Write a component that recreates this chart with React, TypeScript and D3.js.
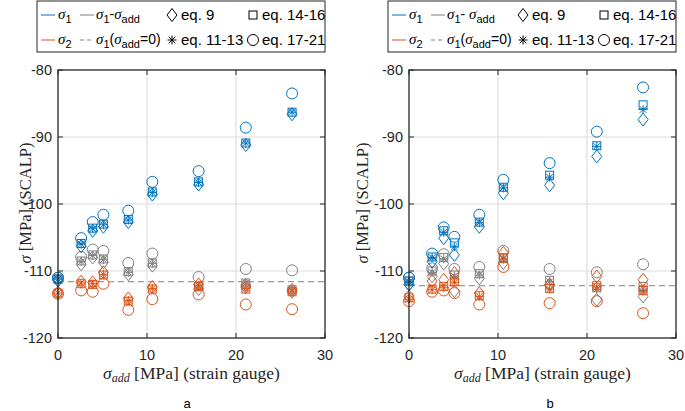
import React, { useRef, useEffect } from "react";
import * as d3 from "d3";

// strain gauge sigma_add values (MPa)
const xVals = [0, 2.6, 3.9, 5.1, 7.9, 10.6, 15.8, 21.1, 26.3];

// panel a
const aBlueCircle = [-111.0, -105.1, -102.7, -101.6, -101.0, -96.7, -95.1, -88.6, -83.5];
const aBlueDiamond = [-111.4, -106.3, -104.0, -103.4, -102.7, -98.6, -97.1, -91.2, -86.6];
const aBlueStar = [-111.2, -106.0, -103.7, -103.1, -102.4, -98.3, -96.8, -90.9, -86.3];
const aBlueSquare = [-111.2, -105.9, -103.6, -103.0, -102.3, -98.2, -96.7, -90.9, -86.3];
const aGrayCircle = [-111.0, -107.9, -106.8, -107.0, -108.8, -107.4, -110.9, -109.7, -109.9];
const aGrayDiamond = [-111.4, -109.0, -108.0, -108.7, -110.5, -109.2, -112.7, -112.1, -113.1];
const aGrayStar = [-111.2, -108.6, -107.7, -108.3, -110.2, -108.9, -112.4, -111.8, -112.8];
const aGraySquare = [-111.2, -108.5, -107.6, -108.2, -110.1, -108.8, -112.3, -111.8, -112.8];
const aOrangeCircle = [-113.4, -112.9, -113.1, -111.9, -115.8, -114.2, -113.5, -115.0, -115.7];
const aOrangeDiamond = [-113.2, -111.6, -111.7, -110.2, -114.1, -112.4, -112.0, -112.4, -112.8];
const aOrangeStar = [-113.3, -111.8, -111.9, -110.5, -114.4, -112.6, -112.2, -112.6, -113.0];
const aOrangeSquare = [-113.3, -111.9, -112.0, -110.6, -114.5, -112.7, -112.3, -112.7, -113.1];
const aRef = -111.6;

// panel b
const bBlueCircle = [-111.0, -107.4, -103.5, -104.9, -101.6, -96.4, -93.9, -89.2, -82.6];
const bBlueDiamond = [-112.0, -108.6, -105.1, -107.6, -103.4, -98.4, -97.2, -92.9, -87.4];
const bBlueStar = [-111.6, -108.0, -104.2, -106.4, -102.8, -97.6, -96.0, -91.4, -85.9];
const bBlueSquare = [-111.5, -107.9, -104.0, -105.8, -102.7, -97.5, -95.7, -91.3, -85.2];
const bGrayCircle = [-111.0, -109.6, -107.5, -109.7, -109.4, -107.0, -109.7, -110.2, -109.0];
const bGrayDiamond = [-112.0, -110.8, -108.9, -113.0, -111.1, -108.8, -112.1, -114.3, -113.8];
const bGrayStar = [-111.6, -110.2, -108.2, -110.8, -110.6, -108.2, -111.6, -112.7, -112.7];
const bGraySquare = [-111.5, -110.0, -108.0, -110.6, -110.4, -108.0, -111.4, -112.5, -112.3];
const bOrangeCircle = [-114.5, -113.1, -112.9, -113.3, -115.0, -109.4, -114.8, -114.5, -116.3];
const bOrangeDiamond = [-113.8, -111.5, -111.3, -110.3, -113.3, -107.3, -112.0, -110.8, -111.3];
const bOrangeStar = [-114.2, -112.8, -112.5, -111.7, -113.8, -108.2, -112.7, -112.4, -113.1];
const bOrangeSquare = [-114.0, -112.7, -112.3, -111.6, -113.7, -108.1, -112.6, -112.2, -112.9];
const bRef = -112.2;

const xTicks = [0, 10, 20, 30];
const yTicks = [-120, -110, -100, -90, -80];

const BLUE = "#0072BD";
const ORANGE = "#D95319";
const GRAY = "#808080";
const SANS = "'Liberation Sans', Arial, sans-serif";
const SERIF = "'Liberation Serif', 'Times New Roman', serif";

const drawMarker = (g, kind, x, y, color) => {
  if (kind === "circle") {
    g.append("circle").attr("cx", x).attr("cy", y).attr("r", 5.5)
      .attr("fill", "none").attr("stroke", color).attr("stroke-width", 1);
  } else if (kind === "square") {
    g.append("rect").attr("x", x - 4).attr("y", y - 4).attr("width", 8).attr("height", 8)
      .attr("fill", "none").attr("stroke", color).attr("stroke-width", 1);
  } else if (kind === "diamond") {
    g.append("path").attr("d", `M${x},${y - 6.5}L${x + 5},${y}L${x},${y + 6.5}L${x - 5},${y}Z`)
      .attr("fill", "none").attr("stroke", color).attr("stroke-width", 1);
  } else {
    const r = 4.5, d = 3.3;
    g.append("path")
      .attr("d", `M${x - r},${y}H${x + r}M${x},${y - r}V${y + r}M${x - d},${y - d}L${x + d},${y + d}M${x - d},${y + d}L${x + d},${y - d}`)
      .attr("fill", "none").attr("stroke", color).attr("stroke-width", 1);
  }
};

const Panel = ({ ox, series, refLevel, letter, yLabelX, spaced }) => {
  const gRef = useRef(null);

  useEffect(() => {
    const g = d3.select(gRef.current);
    g.selectAll("*").remove();

    const left = 58 + ox, right = 325 + ox, top = 70, bottom = 338;
    const x = d3.scaleLinear().domain([0, 30]).range([left, right]);
    const y = d3.scaleLinear().domain([-120, -80]).range([bottom, top]);

    // grid
    g.selectAll(".gx").data(xTicks.slice(1, -1)).enter().append("line")
      .attr("x1", (d) => x(d)).attr("x2", (d) => x(d)).attr("y1", top).attr("y2", bottom)
      .attr("stroke", "#dedede").attr("stroke-width", 1.2);
    g.selectAll(".gy").data(yTicks.slice(1, -1)).enter().append("line")
      .attr("x1", left).attr("x2", right).attr("y1", (d) => y(d)).attr("y2", (d) => y(d))
      .attr("stroke", "#dedede").attr("stroke-width", 1.2);

    // dashed reference sigma1(sigma_add=0)
    g.append("line").attr("x1", left).attr("x2", right)
      .attr("y1", y(refLevel)).attr("y2", y(refLevel))
      .attr("stroke", GRAY).attr("stroke-width", 1).attr("stroke-dasharray", "6,4");

    // markers
    series.forEach((s) => {
      s.values.forEach((v, i) => drawMarker(g, s.kind, x(xVals[i]), y(v), s.color));
    });

    // axes box
    g.append("rect").attr("x", left).attr("y", top).attr("width", right - left).attr("height", bottom - top)
      .attr("fill", "none").attr("stroke", "#262626").attr("stroke-width", 1.3);

    // ticks (inside, all four sides)
    xTicks.forEach((t) => {
      g.append("line").attr("x1", x(t)).attr("x2", x(t)).attr("y1", bottom).attr("y2", bottom - 5).attr("stroke", "#262626");
      g.append("line").attr("x1", x(t)).attr("x2", x(t)).attr("y1", top).attr("y2", top + 5).attr("stroke", "#262626");
      g.append("text").attr("x", x(t)).attr("y", 360).attr("text-anchor", "middle")
        .attr("font-family", SANS).attr("font-size", 14.5).attr("fill", "#262626").text(t);
    });
    yTicks.forEach((t) => {
      g.append("line").attr("x1", left).attr("x2", left + 5).attr("y1", y(t)).attr("y2", y(t)).attr("stroke", "#262626");
      g.append("line").attr("x1", right).attr("x2", right - 5).attr("y1", y(t)).attr("y2", y(t)).attr("stroke", "#262626");
      g.append("text").attr("x", left - 6).attr("y", y(t) + 5).attr("text-anchor", "end")
        .attr("font-family", SANS).attr("font-size", 14.5).attr("fill", "#262626").text(t);
    });

    // axis labels
    const xl = g.append("text").attr("x", (left + right) / 2).attr("y", 379).attr("text-anchor", "middle")
      .attr("font-family", SERIF).attr("font-size", 17.5).attr("fill", "#262626");
    xl.append("tspan").attr("font-style", "italic").text("σ");
    xl.append("tspan").attr("font-style", "italic").attr("font-size", 12).attr("dy", 3).text("add");
    xl.append("tspan").attr("dy", -3).text(" [MPa] (strain gauge)");

    const yl = g.append("text").attr("transform", `translate(${yLabelX},${(top + bottom) / 2 - 1}) rotate(-90)`)
      .attr("text-anchor", "middle").attr("font-family", SERIF).attr("font-size", 16.5).attr("fill", "#262626");
    yl.append("tspan").attr("font-style", "italic").text("σ");
    yl.append("tspan").text(" [MPa] (SCALP)");

    g.append("text").attr("x", 187 + ox + (letter === "b" ? 12 : 0)).attr("y", 408).attr("text-anchor", "middle")
      .attr("font-family", SANS).attr("font-size", 13).attr("fill", "#000").text(letter);

    // legend
    const lx = 37 + ox;
    const lg = g.append("g");
    lg.append("rect").attr("x", lx).attr("y", 1).attr("width", 288).attr("height", 51)
      .attr("fill", "#fff").attr("stroke", "#262626").attr("stroke-width", 1);
    const r1 = 15, r2 = 40;
    const line = (x1, yy, color, dash) =>
      lg.append("line").attr("x1", x1).attr("x2", x1 + 14).attr("y1", yy).attr("y2", yy)
        .attr("stroke", color).attr("stroke-width", 1).attr("stroke-dasharray", dash || null);
    const sig = (xx, yy, sub, rest) => {
      const t = lg.append("text").attr("x", xx).attr("y", yy + 4).attr("font-family", SANS)
        .attr("font-size", 14).attr("fill", "#000");
      t.append("tspan").attr("font-family", SERIF).attr("font-style", "italic").attr("font-size", 15).text("σ");
      t.append("tspan").attr("font-size", 11).attr("dy", 4).text(sub);
      rest(t);
    };
    line(lx + 4, r1, BLUE);
    sig(lx + 21, r1, "1", () => {});
    line(lx + 43, r1, GRAY);
    sig(lx + 59, r1, "1", (t) => {
      t.append("tspan").attr("dy", -4).text(spaced ? "- " : "-");
      t.append("tspan").attr("font-family", SERIF).attr("font-style", "italic").attr("font-size", 15).text("σ");
      t.append("tspan").attr("font-size", 11).attr("dy", 4).text("add");
    });
    line(lx + 4, r2, ORANGE);
    sig(lx + 21, r2, "2", () => {});
    line(lx + 43, r2, GRAY, "4,3");
    sig(lx + 59, r2, "1", (t) => {
      t.append("tspan").attr("dy", -4).text("(");
      t.append("tspan").attr("font-family", SERIF).attr("font-style", "italic").attr("font-size", 15).text("σ");
      t.append("tspan").attr("font-size", 11).attr("dy", 4).text("add");
      t.append("tspan").attr("dy", -4).text("=0)");
    });
    const eq = (mx, yy, kind, label) => {
      drawMarker(lg, kind, mx, yy, "#000");
      lg.append("text").attr("x", mx + 9).attr("y", yy + 5).attr("font-family", SANS)
        .attr("font-size", 15).attr("fill", "#000").text(label);
    };
    eq(lx + 135, r1, "diamond", "eq. 9");
    eq(lx + 216, r1, "square", "eq. 14-16");
    eq(lx + 135, r2, "star", "eq. 11-13");
    eq(lx + 216, r2, "circle", "eq. 17-21");
  }, [ox, series, refLevel, letter, yLabelX, spaced]);

  return <g ref={gRef}></g>;
};

const mk = (gd, gs, gsq, gc, od, os, osq, oc, bd, bs, bsq, bc) => [
  { kind: "diamond", color: GRAY, values: gd },
  { kind: "star", color: GRAY, values: gs },
  { kind: "square", color: GRAY, values: gsq },
  { kind: "circle", color: GRAY, values: gc },
  { kind: "diamond", color: ORANGE, values: od },
  { kind: "star", color: ORANGE, values: os },
  { kind: "square", color: ORANGE, values: osq },
  { kind: "circle", color: ORANGE, values: oc },
  { kind: "diamond", color: BLUE, values: bd },
  { kind: "star", color: BLUE, values: bs },
  { kind: "square", color: BLUE, values: bsq },
  { kind: "circle", color: BLUE, values: bc },
];

const seriesA = mk(aGrayDiamond, aGrayStar, aGraySquare, aGrayCircle,
  aOrangeDiamond, aOrangeStar, aOrangeSquare, aOrangeCircle,
  aBlueDiamond, aBlueStar, aBlueSquare, aBlueCircle);
const seriesB = mk(bGrayDiamond, bGrayStar, bGraySquare, bGrayCircle,
  bOrangeDiamond, bOrangeStar, bOrangeSquare, bOrangeCircle,
  bBlueDiamond, bBlueStar, bBlueSquare, bBlueCircle);

export default function App() {
  return (
    <svg width={685} height={411} style={{ position: "absolute", left: 0, top: 0, background: "#fff" }}>
      <Panel ox={0} series={seriesA} refLevel={aRef} letter="a" yLabelX={31} spaced={false} />
      <Panel ox={351} series={seriesB} refLevel={bRef} letter="b" yLabelX={368} spaced={true} />
    </svg>
  );
}
